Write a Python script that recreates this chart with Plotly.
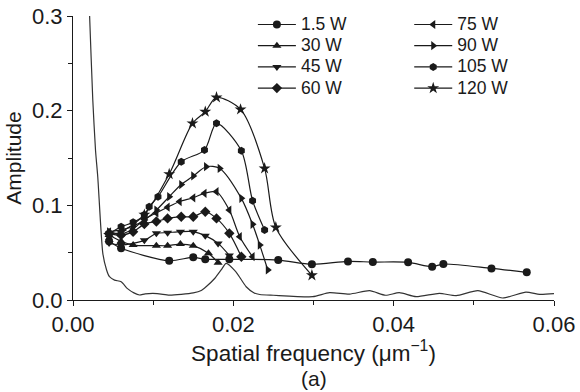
import plotly.graph_objects as go

# ---- data ----
bg_f = [0.00190, 0.00206, 0.00247, 0.00281, 0.00309, 0.00372, 0.00418, 0.00455, 0.00518, 0.00601,
        0.00680, 0.00760, 0.00830, 0.00900, 0.01050, 0.01200, 0.01350, 0.01500, 0.01600, 0.01660,
        0.01770, 0.01850, 0.01910, 0.02030, 0.02160, 0.02260, 0.02330, 0.02500, 0.02990, 0.03200,
        0.03450, 0.03700, 0.03900, 0.04070, 0.04280, 0.04570, 0.04780, 0.05050, 0.05360, 0.05650,
        0.05820, 0.06000]
bg_a = [0.340, 0.303, 0.211, 0.158, 0.130, 0.0493, 0.032, 0.0246, 0.0210, 0.0193,
        0.0120, 0.0075, 0.0053, 0.0065, 0.0068, 0.0052, 0.0060, 0.0075, 0.0100, 0.0140,
        0.0230, 0.0320, 0.0387, 0.0300, 0.0140, 0.0074, 0.0058, 0.0050, 0.0035, 0.0077,
        0.0063, 0.0098, 0.0050, 0.0077, 0.0035, 0.0070, 0.0046, 0.0098, 0.0021, 0.0084,
        0.0060, 0.0067]

f_1p5 = [0.0045, 0.0060, 0.0120, 0.0150, 0.0165, 0.0195, 0.0256, 0.0298, 0.0343, 0.0374,
         0.0418, 0.0448, 0.0462, 0.0522, 0.0566]
a_1p5 = [0.0620, 0.0546, 0.0415, 0.0451, 0.0430, 0.0430, 0.0422, 0.0377, 0.0408, 0.0401,
         0.0398, 0.0352, 0.0380, 0.0334, 0.0292]

f_30 = [0.0045, 0.0060, 0.0075, 0.0104, 0.0118, 0.0134, 0.0150, 0.0169, 0.0181]
a_30 = [0.0686, 0.0620, 0.0580, 0.0574, 0.0574, 0.0591, 0.0574, 0.0493, 0.0394]

f_45 = [0.0045, 0.0060, 0.0089, 0.0104, 0.0118, 0.0134, 0.0150, 0.0165, 0.0181, 0.0195]
a_45 = [0.0602, 0.0580, 0.0630, 0.0704, 0.0711, 0.0722, 0.0722, 0.0680, 0.0598, 0.0470]

f_60 = [0.0045, 0.0060, 0.0075, 0.0089, 0.0104, 0.0118, 0.0135, 0.0150, 0.0165, 0.0179, 0.0195, 0.0210]
a_60 = [0.0702, 0.0686, 0.0720, 0.0802, 0.0830, 0.0862, 0.0880, 0.0880, 0.0932, 0.0862, 0.0704, 0.0457]

f_75 = [0.0045, 0.0060, 0.0075, 0.0089, 0.0104, 0.0118, 0.0133, 0.0150, 0.0164, 0.0179, 0.0195, 0.0208, 0.0224]
a_75 = [0.0720, 0.0700, 0.0750, 0.0850, 0.0920, 0.0980, 0.1040, 0.1080, 0.1127, 0.1144, 0.0950, 0.0669, 0.0457]

f_90 = [0.0045, 0.0060, 0.0075, 0.0089, 0.0104, 0.0120, 0.0135, 0.0150, 0.0166, 0.0183, 0.0210, 0.0224, 0.0233, 0.0243]
a_90 = [0.0720, 0.0740, 0.0780, 0.0845, 0.0950, 0.1091, 0.1220, 0.1310, 0.1408, 0.1390, 0.1074, 0.0800, 0.0580, 0.0317]

f_105 = [0.0045, 0.0060, 0.0075, 0.0089, 0.0095, 0.0106, 0.0135, 0.0164, 0.0179, 0.0210, 0.0224, 0.0239]
a_105 = [0.0700, 0.0774, 0.0820, 0.0900, 0.0985, 0.1091, 0.1460, 0.1584, 0.1866, 0.1577, 0.1049, 0.0739]

f_120 = [0.0045, 0.0060, 0.0089, 0.0120, 0.0149, 0.0165, 0.0179, 0.0209, 0.0239, 0.0253, 0.0298]
a_120 = [0.0686, 0.0720, 0.0900, 0.1330, 0.1866, 0.1989, 0.2140, 0.2013, 0.1390, 0.0767, 0.0261]

series = [
    ("1.5 W", f_1p5, a_1p5, "circle", "legend"),
    ("30 W", f_30, a_30, "triangle-up", "legend"),
    ("45 W", f_45, a_45, "triangle-down", "legend"),
    ("60 W", f_60, a_60, "diamond", "legend"),
    ("75 W", f_75, a_75, "triangle-left", "legend2"),
    ("90 W", f_90, a_90, "triangle-right", "legend2"),
    ("105 W", f_105, a_105, "hexagon", "legend2"),
    ("120 W", f_120, a_120, "star", "legend2"),
]

x_ticks = [0.00, 0.02, 0.04, 0.06]
y_ticks = [0.0, 0.1, 0.2, 0.3]

FONT = "Liberation Sans, Arial, sans-serif"
INK = "#1a1a1a"

fig = go.Figure()
fig.add_trace(go.Scatter(x=bg_f, y=bg_a, mode="lines", showlegend=False,
                         line=dict(color="#333333", width=1.2, shape="spline", smoothing=0.6),
                         hoverinfo="skip"))
for name, fx, ay, sym, leg in series:
    fig.add_trace(go.Scatter(
        x=fx, y=ay, mode="lines+markers", legend=leg,
        name='<span style="font-size:17.5px">' + name + '</span>',
        line=dict(color=INK, width=1.2, shape="spline", smoothing=0.8),
        marker=dict(symbol=sym, size=8 if sym != "star" else 9, color=INK),
    ))

leg_common = dict(font=dict(family=FONT, size=14, color=INK), bgcolor="rgba(0,0,0,0)",
                  xanchor="left", yanchor="top", tracegroupgap=0, itemwidth=38)

fig.update_layout(
    width=580, height=392,
    margin=dict(l=73, r=26, t=16, b=92, autoexpand=False),
    paper_bgcolor="white", plot_bgcolor="white",
    font=dict(family=FONT, color=INK),
    legend=dict(x=0.374, y=1.025, **leg_common),
    legend2=dict(x=0.699, y=1.025, **leg_common),
    xaxis=dict(range=[0, 0.06], tickvals=x_ticks, tickformat=".2f",
               showgrid=False, zeroline=False, showline=True, linecolor=INK, linewidth=1,
               ticks="outside", ticklen=5, tickcolor=INK, tickwidth=1,
               minor=dict(dtick=0.01, ticks="outside", ticklen=4, tickcolor=INK),
               tickfont=dict(size=22, family=FONT, color=INK),
               title=dict(text="Spatial frequency (μm<sup>−1</sup>)", font=dict(size=22.5, family=FONT, color=INK),
                          standoff=5)),
    yaxis=dict(range=[0, 0.3], tickvals=y_ticks, tickformat=".1f",
               showgrid=False, zeroline=False, showline=True, linecolor=INK, linewidth=1,
               ticks="outside", ticklen=5, tickcolor=INK, tickwidth=1,
               minor=dict(dtick=0.05, ticks="outside", ticklen=4, tickcolor=INK),
               tickfont=dict(size=22, family=FONT, color=INK),
               title=dict(text="Amplitude", font=dict(size=21, family=FONT, color=INK), standoff=4)),
    annotations=[dict(text="(a)", xref="paper", yref="paper", x=0.5, y=-0.275,
                      xanchor="center", yanchor="middle", showarrow=False,
                      font=dict(size=21, family=FONT, color=INK))],
)

fig.write_html("out.html", config={"displayModeBar": False})
